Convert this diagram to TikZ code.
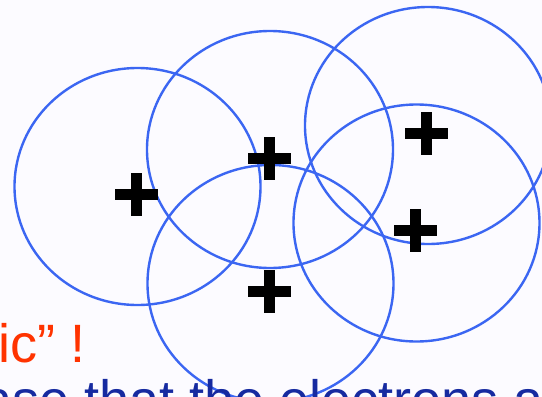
\documentclass[tikz,border=0pt]{standalone}
\usepackage{fontspec}
\setmainfont{Liberation Sans}
\definecolor{bgc}{RGB}{252,251,255}
\definecolor{ringc}{RGB}{59,102,242}
\definecolor{redc}{RGB}{255,51,0}
\definecolor{navyc}{RGB}{22,42,160}
\tikzset{
  ring/.style={draw=ringc, line width=2.4pt},
  pics/plussign/.style={code={
    \fill[black] (-21.5,-5.5) rectangle (21.5,5.5);
    \fill[black] (-5.5,-21.5) rectangle (5.5,21.5);
  }},
  bigtext/.style={inner sep=0pt, anchor=base west, font=\fontsize{54}{60}\selectfont}
}
\begin{document}
\begin{tikzpicture}[x=1pt,y=-1pt]
\useasboundingbox (0,0) rectangle (542,397);
\clip (0,0) rectangle (542,397);
\fill[bgc] (0,0) rectangle (542,397);
% circle centres
\coordinate (c1) at (137.5,186.5);
\coordinate (c2) at (270,149.5);
\coordinate (c3) at (428,125.5);
\coordinate (c4) at (416.5,223);
\coordinate (c5) at (270.5,283.5);
\foreach \c in {c1,c2,c3,c4,c5}
  \draw[ring] (\c) ellipse [x radius=123pt, y radius=118.5pt];
% plus signs
\pic at (136,194) {plussign};
\pic at (269,158) {plussign};
\pic at (269,291) {plussign};
\pic at (426.5,133.5) {plussign};
\pic at (415,230.5) {plussign};
% texts
\node[bigtext, text=redc] (t1) at (-1.6,362) {ic” !};
\node[bigtext, text=navyc] (t2) at (-18,418) {ase that the electrons a};
\end{tikzpicture}
\end{document}
